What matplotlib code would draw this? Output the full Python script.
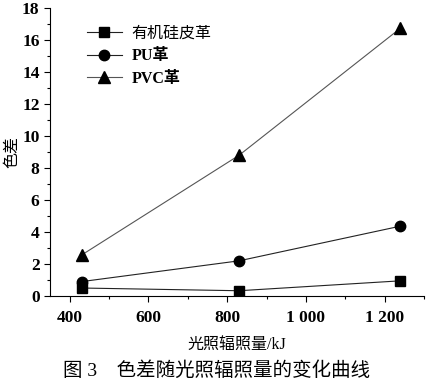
import matplotlib
matplotlib.use('Agg')
import matplotlib.pyplot as plt
from matplotlib.ticker import MultipleLocator, FuncFormatter

plt.rcParams['font.family'] = ['Liberation Serif', 'Noto Sans CJK SC']

# data
dose = [430, 830, 1240]
silicone = [0.5, 0.33, 0.95]
pu = [0.9, 2.2, 4.37]
pvc = [2.56, 8.8, 16.75]
labels = ['有机硅皮革', 'PU革', 'PVC革']

fig = plt.figure(figsize=(4.33, 3.9), dpi=100)
ax = fig.add_axes([0.1155, 0.241, 0.864, 0.738])

ax.plot(dose, silicone, '-s', color='#222222', lw=0.8, ms=7, mfc='black', mec='black', label=labels[0])
ax.plot(dose, pu, '-o', color='#222222', lw=0.8, ms=7.5, mfc='black', mec='black', label=labels[1])
ax.plot(dose, pvc, '-^', color='#555555', lw=0.8, ms=8, mfc='black', mec='black', label=labels[2])

ax.set_xlim(350, 1300)
ax.set_ylim(0, 18)
ax.xaxis.set_major_locator(MultipleLocator(200))
ax.xaxis.set_minor_locator(MultipleLocator(100))
ax.yaxis.set_major_locator(MultipleLocator(2))
ax.yaxis.set_minor_locator(MultipleLocator(1))
ax.xaxis.set_major_formatter(FuncFormatter(lambda v, p: f'{int(v):,}'.replace(',', ' ')))

for s in ['top', 'right']:
    ax.spines[s].set_visible(False)
ax.spines['left'].set_linewidth(0.8)
ax.spines['bottom'].set_linewidth(0.8)
ax.tick_params(which='major', direction='out', length=4, width=0.8, labelsize=12.5)
ax.tick_params(which='minor', direction='out', length=2.5, width=0.8)
ax.tick_params(axis='x', pad=6)
for t in ax.get_xticklabels() + ax.get_yticklabels():
    t.set_fontweight('bold')

ax.set_xlabel('光照辐照量/kJ', fontsize=11.5, labelpad=8)
ax.set_ylabel('色差', fontsize=11.5, va='center')
ax.yaxis.set_label_coords(-0.10, 0.5)

leg = ax.legend(loc='upper left', bbox_to_anchor=(0.06, 0.99), frameon=False,
                fontsize=11.5, handlelength=2.2, handletextpad=0.6, labelspacing=0.42)
for t in leg.get_texts()[1:]:
    t.set_fontweight('bold')

fig.text(0.5, 0.025, '图 3　色差随光照辐照量的变化曲线', ha='center', va='bottom', fontsize=14)

fig.savefig('out.png', dpi=100)
